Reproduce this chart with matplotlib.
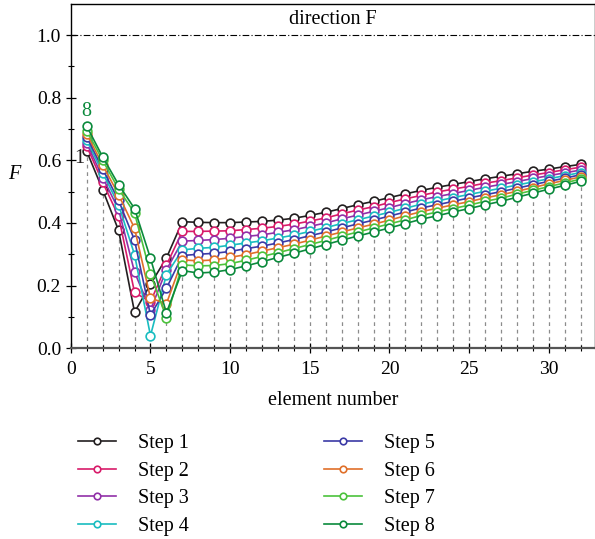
import matplotlib.pyplot as plt
import numpy as np

plt.rcParams['font.family'] = ['Liberation Serif', 'DejaVu Serif']
plt.rcParams['font.size'] = 13

elements = list(range(1, 33))

step1 = [0.629, 0.506, 0.376, 0.115, 0.204, 0.288, 0.404, 0.402, 0.401, 0.401, 0.403, 0.405,
         0.409, 0.415, 0.424, 0.434, 0.446, 0.458, 0.469, 0.481, 0.493, 0.504, 0.514, 0.523,
         0.532, 0.541, 0.549, 0.557, 0.565, 0.572, 0.580, 0.587]
step2 = [0.645, 0.530, 0.421, 0.178, 0.148, 0.265, 0.373, 0.373, 0.374, 0.375, 0.379, 0.383,
         0.389, 0.396, 0.406, 0.416, 0.429, 0.441, 0.452, 0.465, 0.477, 0.488, 0.499, 0.508,
         0.517, 0.527, 0.535, 0.544, 0.553, 0.561, 0.570, 0.578]
step3 = [0.655, 0.545, 0.443, 0.243, 0.122, 0.250, 0.342, 0.344, 0.347, 0.351, 0.357, 0.362,
         0.370, 0.378, 0.389, 0.400, 0.413, 0.425, 0.437, 0.449, 0.462, 0.474, 0.484, 0.494,
         0.504, 0.514, 0.523, 0.532, 0.542, 0.551, 0.560, 0.569]
step4 = [0.665, 0.560, 0.458, 0.299, 0.040, 0.235, 0.314, 0.319, 0.322, 0.329, 0.336, 0.343,
         0.352, 0.361, 0.373, 0.385, 0.398, 0.410, 0.422, 0.434, 0.447, 0.460, 0.470, 0.481,
         0.491, 0.501, 0.511, 0.521, 0.531, 0.541, 0.551, 0.561]
step5 = [0.675, 0.572, 0.472, 0.345, 0.106, 0.191, 0.296, 0.300, 0.303, 0.309, 0.318, 0.326,
         0.336, 0.347, 0.359, 0.371, 0.384, 0.397, 0.409, 0.422, 0.435, 0.448, 0.458, 0.469,
         0.480, 0.490, 0.500, 0.511, 0.522, 0.533, 0.543, 0.554]
step6 = [0.685, 0.585, 0.490, 0.383, 0.160, 0.142, 0.282, 0.279, 0.282, 0.290, 0.299, 0.310,
         0.321, 0.332, 0.345, 0.358, 0.371, 0.384, 0.396, 0.409, 0.423, 0.436, 0.447, 0.458,
         0.468, 0.480, 0.490, 0.501, 0.513, 0.525, 0.536, 0.547]
step7 = [0.695, 0.600, 0.508, 0.432, 0.238, 0.097, 0.266, 0.263, 0.264, 0.270, 0.281, 0.293,
         0.305, 0.318, 0.331, 0.344, 0.358, 0.371, 0.384, 0.397, 0.410, 0.424, 0.435, 0.446,
         0.457, 0.469, 0.479, 0.492, 0.504, 0.516, 0.528, 0.540]
step8 = [0.709, 0.611, 0.522, 0.446, 0.287, 0.113, 0.248, 0.240, 0.243, 0.251, 0.263, 0.276,
         0.290, 0.303, 0.317, 0.331, 0.345, 0.358, 0.371, 0.384, 0.398, 0.412, 0.423, 0.435,
         0.446, 0.458, 0.469, 0.482, 0.495, 0.508, 0.520, 0.533]

steps = [step1, step2, step3, step4, step5, step6, step7, step8]
labels = ['Step 1', 'Step 2', 'Step 3', 'Step 4', 'Step 5', 'Step 6', 'Step 7', 'Step 8']
colors = ['#231f20', '#d81b6a', '#9130a8', '#19bcc0', '#3b3aa6', '#e0702a', '#4cc23c', '#0b8a3c']

fig = plt.figure(figsize=(5.95, 5.39), dpi=100)
ax = fig.add_axes([0.119, 0.354, 0.881, 0.639])

## dashed drop lines up to the lowest point of each element
lowest = np.min(np.array(steps), axis=0)
ax.vlines(elements, 0, lowest, colors='#8c8c8c', linestyles=(0, (3, 3)), linewidth=0.9, zorder=1)

for vals, lab, col in zip(steps, labels, colors):
    ax.plot(elements, vals, color=col, lw=1.2, marker='o', ms=6.3, mfc='white',
            mec=col, mew=1.2, label=lab, zorder=3)

ax.axhline(1.0, color='black', lw=0.8, linestyle=(0, (6, 2, 1, 2)))
ax.text(0.5, 0.955, 'direction F', transform=ax.transAxes, ha='center', va='center', fontsize=14.5)
ax.text(1, step8[0] + 0.047, '8', color=colors[7], ha='center', va='center', fontsize=14.5)
ax.text(0.55, 0.605, '1', color=colors[0], ha='center', va='center', fontsize=14.5)

ax.set_xlim(0, 32.9)
ax.set_ylim(0, 1.1)
ax.set_xticks(range(0, 31, 5))
ax.set_xticks(range(0, 33), minor=True)
ax.set_yticks(np.arange(0, 1.01, 0.2))
ax.set_yticks(np.arange(0, 1.01, 0.1), minor=True)
ax.yaxis.set_major_formatter(plt.FormatStrFormatter('%.1f'))
ax.tick_params(which='major', direction='inout', length=7, width=0.9, labelsize=14)
ax.tick_params(which='minor', direction='inout', length=4, width=0.8)
ax.tick_params(axis='x', pad=6)
for s in ax.spines.values():
    s.set_linewidth(1.0)
ax.spines['bottom'].set_linewidth(1.6)
ax.spines['bottom'].set_color('#555555')

ax.set_xlabel('element number', fontsize=14.5, labelpad=9)
ax.set_ylabel('F', fontsize=14.5, style='italic', rotation=0, va='center')
ax.yaxis.set_label_coords(-0.107, 0.505)

fig.legend(loc='upper left', bbox_to_anchor=(0.1, 0.228), ncol=2, frameon=False,
           fontsize=14.5, handlelength=1.9, columnspacing=6.7, labelspacing=0.42,
           handletextpad=1.1, markerscale=0.75)

plt.savefig('out.png', dpi=100)
